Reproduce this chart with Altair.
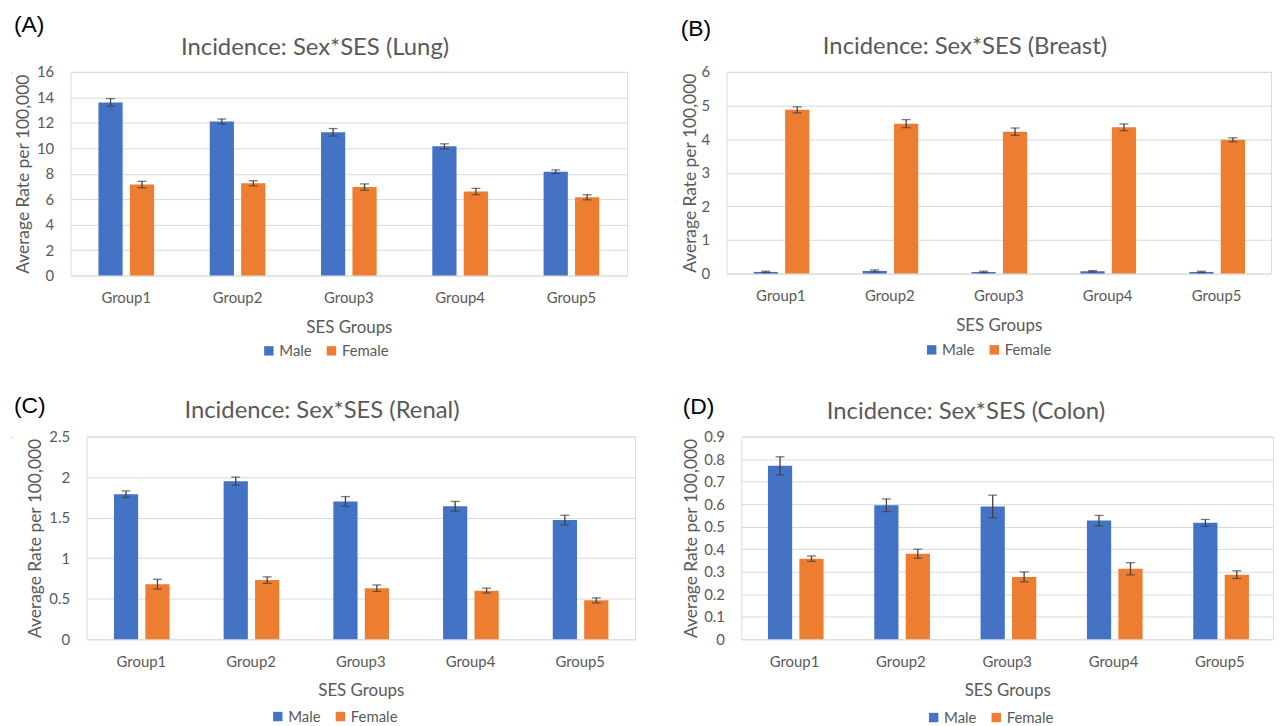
import altair as alt
import pandas as pd

groups = ["Group1", "Group2", "Group3", "Group4", "Group5"]
sexes = ["Male", "Female"]

lung_male = [13.6, 12.1, 11.25, 10.15, 8.15]
lung_male_err = [0.3, 0.2, 0.3, 0.2, 0.15]
lung_female = [7.15, 7.25, 6.95, 6.6, 6.15]
lung_female_err = [0.25, 0.2, 0.25, 0.25, 0.2]

breast_male = [0.05, 0.08, 0.05, 0.07, 0.05]
breast_male_err = [0.02, 0.03, 0.02, 0.02, 0.02]
breast_female = [4.87, 4.46, 4.22, 4.35, 3.98]
breast_female_err = [0.09, 0.12, 0.11, 0.1, 0.06]

renal_male = [1.79, 1.95, 1.70, 1.64, 1.47]
renal_male_err = [0.04, 0.05, 0.06, 0.06, 0.06]
renal_female = [0.68, 0.73, 0.63, 0.60, 0.48]
renal_female_err = [0.06, 0.04, 0.04, 0.03, 0.03]

colon_male = [0.77, 0.595, 0.59, 0.527, 0.517]
colon_male_err = [0.04, 0.028, 0.05, 0.023, 0.015]
colon_female = [0.358, 0.38, 0.277, 0.313, 0.287]
colon_female_err = [0.012, 0.02, 0.022, 0.027, 0.017]

lung_ticks = [0, 2, 4, 6, 8, 10, 12, 14, 16]
breast_ticks = [0, 1, 2, 3, 4, 5, 6]
renal_ticks = [0, 0.5, 1, 1.5, 2, 2.5]
colon_ticks = [0, 0.1, 0.2, 0.3, 0.4, 0.5, 0.6, 0.7, 0.8, 0.9]

BLUE = "#4472C4"
ORANGE = "#ED7D31"
TXT = "#595959"
GRID = "#D9D9D9"
FONT = "Lato"


def panel(label, title, male, male_err, female, female_err, ticks,
          w, h, lab_pos, title_pos, ytitle_x, leg_pos):
    rows = []
    for i, g in enumerate(groups):
        rows.append(dict(group=g, sex="Male", value=male[i],
                         lo=male[i] - male_err[i], hi=male[i] + male_err[i]))
        rows.append(dict(group=g, sex="Female", value=female[i],
                         lo=female[i] - female_err[i], hi=female[i] + female_err[i]))
    df = pd.DataFrame(rows)
    base = alt.Chart(df)
    x = alt.X("group:N", sort=groups,
              scale=alt.Scale(paddingInner=0.5, paddingOuter=0.25),
              axis=alt.Axis(title="SES Groups", labelAngle=0, domain=False,
                            ticks=False, labelPadding=15, labelFont=FONT,
                            labelFontSize=15, labelColor=TXT, titleFont=FONT,
                            titleFontSize=17, titleFontWeight="normal",
                            titleColor=TXT, titlePadding=14))
    xo = alt.XOffset("sex:N", sort=sexes, scale=alt.Scale(paddingInner=0.23))
    yscale = alt.Scale(domain=[ticks[0], ticks[-1]], nice=False)
    yaxis = alt.Axis(values=ticks, format="~g", domain=False, ticks=False,
                     tickSize=0, grid=True, gridColor=GRID, labelOverlap=False,
                     labelPadding=17, labelFont=FONT, labelFontSize=15,
                     labelColor=TXT, title="Average Rate per 100,000",
                     titleFont=FONT, titleFontSize=17.5,
                     titleFontWeight="normal", titleColor=TXT,
                     titleX=ytitle_x, titleY=h / 2,
                     titleBaseline="middle", titleAlign="center")
    bars = base.mark_bar().encode(
        x=x, xOffset=xo, y=alt.Y("value:Q", scale=yscale, axis=yaxis),
        color=alt.Color("sex:N", sort=sexes,
                        scale=alt.Scale(domain=sexes, range=[BLUE, ORANGE]),
                        legend=alt.Legend(title=None, orient="none",
                                          legendX=leg_pos[0], legendY=leg_pos[1],
                                          direction="horizontal",
                                          symbolType="square", symbolSize=90,
                                          symbolStrokeWidth=0,
                                          labelFont=FONT, labelFontSize=15,
                                          labelColor=TXT, columnPadding=12,
                                          labelOffset=3)))
    err = base.mark_rule(color="#404040", strokeWidth=1.3).encode(
        x=x, xOffset=xo, y=alt.Y("lo:Q", scale=yscale, axis=yaxis), y2="hi:Q")
    cap_hi = base.mark_tick(color="#404040", thickness=1.3, size=9).encode(
        x=x, xOffset=xo, y=alt.Y("hi:Q", scale=yscale, axis=yaxis))
    cap_lo = base.mark_tick(color="#404040", thickness=1.3, size=9).encode(
        x=x, xOffset=xo, y=alt.Y("lo:Q", scale=yscale, axis=yaxis))
    lab = alt.Chart(pd.DataFrame({"t": [label]})).mark_text(
        font="Liberation Sans", fontSize=23, color="black", align="left",
        baseline="middle").encode(text="t:N", x=alt.value(lab_pos[0]),
                                  y=alt.value(lab_pos[1]))
    ttl = alt.Chart(pd.DataFrame({"t": [title]})).mark_text(
        font=FONT, fontSize=24, color=TXT, align="center",
        baseline="middle").encode(text="t:N", x=alt.value(title_pos[0]),
                                  y=alt.value(title_pos[1]))
    return alt.layer(bars, err, cap_hi, cap_lo, lab, ttl).properties(
        width=w, height=h)


def spacer():
    return alt.Chart(pd.DataFrame({"s": [0]})).mark_point(
        opacity=0, size=1, strokeWidth=0).encode(
        x=alt.value(0), y=alt.value(0)).properties(width=1, height=1)


pA = panel("(A)", "Incidence: Sex*SES (Lung)", lung_male, lung_male_err,
           lung_female, lung_female_err, lung_ticks, 560, 205,
           (-57, -47), (246, -24), -47, (192, 273))
pB = panel("(B)", "Incidence: Sex*SES (Breast)", breast_male, breast_male_err,
           breast_female, breast_female_err, breast_ticks, 548, 203,
           (-46, -43), (240, -25), -36, (199, 272))
pC = panel("(C)", "Incidence: Sex*SES (Renal)", renal_male, renal_male_err,
           renal_female, renal_female_err, renal_ticks, 552, 204,
           (-73, -31), (237, -26), -51, (185, 274))
pD = panel("(D)", "Incidence: Sex*SES (Colon)", colon_male, colon_male_err,
           colon_female, colon_female_err, colon_ticks, 535, 204,
           (-59, -30), (226, -25), -50, (186, 275))


def row(p1, p2, gap):
    inner = alt.hconcat(spacer(), p1, spacing=0).resolve_scale(
        color="independent", x="independent", y="independent").resolve_legend(
        color="independent")
    return alt.hconcat(inner, p2, spacing=gap).resolve_scale(
        color="independent", x="independent", y="independent").resolve_legend(
        color="independent")


row1 = row(pA, pB, 52)
row2 = row(pC, pD, 46)

chart = alt.vconcat(row1, row2, spacing=34).resolve_scale(
    color="independent", x="independent", y="independent").resolve_legend(
    color="independent").properties(
    padding={"left": 2, "top": 3, "right": 0, "bottom": 0}
).configure_view(stroke=None).configure(background="white")

chart.save("out.html", embed_options={"renderer": "svg", "actions": False})
